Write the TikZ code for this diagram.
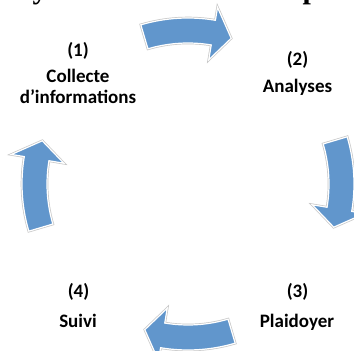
\documentclass[tikz,border=0pt]{standalone}
\usepackage{fontspec}
\setmainfont{Carlito}
\newfontfamily\titlefont{Liberation Serif}
\definecolor{cycleblue}{RGB}{97,150,204}
\tikzset{
  stepnum/.style={anchor=base,inner sep=0pt,font=\bfseries\fontsize{19}{21}\selectfont},
  steplabel/.style={anchor=base,inner sep=0pt,align=center,font=\bfseries\fontsize{19}{21}\selectfont},
  cyclearrow/.style={fill=cycleblue,draw=white,line width=1.2pt,line join=miter,
    preaction={draw=black!22,line width=2.6pt}}
}
\begin{document}
\begin{tikzpicture}[x=1pt,y=1pt]
				\useasboundingbox (0,0) rectangle (354,351);
				\clip (0,0) rectangle (354,351);
				% cut-off title above the cycle
				\node[anchor=base,inner sep=0pt,font=\titlefont\bfseries\fontsize{30}{30}\selectfont] (ty) at (40,352) {y};
				\node[anchor=base,inner sep=0pt,font=\titlefont\bfseries\fontsize{30}{30}\selectfont] (tp) at (311,352) {p};
				% the four curved arrows, clockwise
				\foreach \a in {90,0,-90,180}
				\path[cyclearrow,shift={(188,167)}] (\a+16.5:166)
				  arc[start angle=\a+16.5,end angle=\a-9.5,radius=166]
				  -- (\a-9.5:179) -- (\a-16.5:152) -- (\a-9.5:126) -- (\a-9.5:141)
				  arc[start angle=\a-9.5,end angle=\a+16.5,radius=141] -- cycle;
				% steps
				\node[stepnum] (n1) at (78,294) {(1)};
				\node[steplabel] (s1) at (78,247) {Collecte\\d’informations};
				\node[stepnum] (n2) at (297.5,285) {(2)};
				\node[steplabel] (s2) at (297.5,258) {Analyses};
				\node[stepnum] (n3) at (297.5,53) {(3)};
				\node[steplabel] (s3) at (297,23) {Plaidoyer};
				\node[stepnum] (n4) at (78.5,53) {(4)};
				\node[steplabel] (s4) at (78,23) {Suivi};
			\end{tikzpicture}
\end{document}
